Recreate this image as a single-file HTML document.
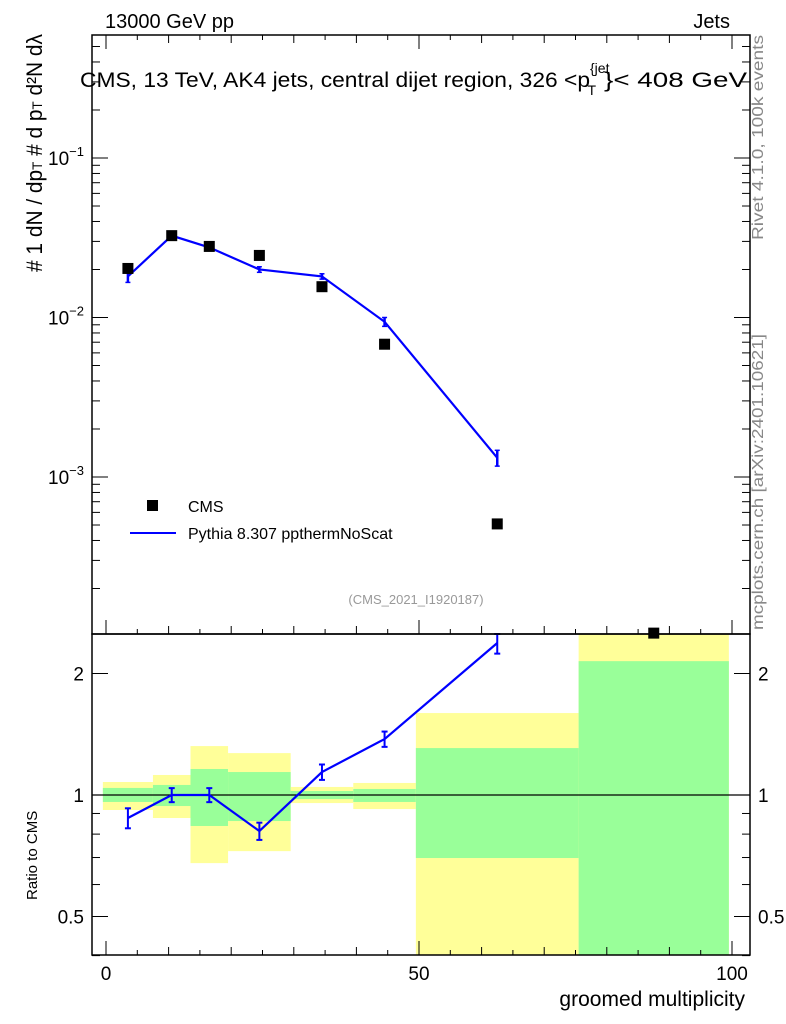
<!DOCTYPE html>
<html><head><meta charset="utf-8"><style>
body{margin:0;background:#fff;}
svg{display:block;font-family:"Liberation Sans",sans-serif;}
</style></head><body>
<svg id="chart" width="786" height="1024" viewBox="0 0 786 1024">
<text x="105" y="28" font-size="20">13000 GeV pp</text>
<text x="730" y="28" font-size="20" text-anchor="end">Jets</text>
<g id="bands"></g>
<g id="ticks"></g>
<line x1="92" y1="795" x2="750" y2="795" stroke="#000" stroke-width="1.3"/>
<g id="marks"></g>
<rect x="92" y="35" width="658" height="599" fill="none" stroke="#000" stroke-width="1.5"/>
<rect x="92" y="634" width="658" height="321" fill="none" stroke="#000" stroke-width="1.5"/>
<text x="80" y="87" font-size="21"><tspan textLength="510" lengthAdjust="spacingAndGlyphs">CMS, 13 TeV, AK4 jets, central dijet region, 326 &lt;p</tspan><tspan font-size="14" dy="-14">{jet</tspan><tspan font-size="14" dx="-22" dy="22">T</tspan><tspan dy="-8" dx="8" textLength="143" lengthAdjust="spacingAndGlyphs">}&lt; 408 GeV</tspan></text>
<text transform="translate(42,272) rotate(-90)" font-size="22" textLength="238" lengthAdjust="spacingAndGlyphs"># 1 dN / dp<tspan font-size="14">T</tspan> # d p<tspan font-size="14">T</tspan> d²N dλ</text>
<text transform="translate(37,900) rotate(-90)" font-size="15">Ratio to CMS</text>
<text x="745" y="1006" font-size="21" text-anchor="end">groomed multiplicity</text>
<text transform="translate(763,240) rotate(-90)" font-size="16" fill="#888" textLength="205" lengthAdjust="spacingAndGlyphs">Rivet 4.1.0,  100k events</text>
<text transform="translate(763,630) rotate(-90)" font-size="16" fill="#888" textLength="296" lengthAdjust="spacingAndGlyphs">mcplots.cern.ch [arXiv:2401.10621]</text>
<text x="416" y="604" font-size="13" fill="#999" text-anchor="middle">(CMS_2021_I1920187)</text>
<rect x="147" y="500" width="11" height="11" fill="#000"/>
<text x="188" y="512" font-size="16">CMS</text>
<line x1="130" y1="533" x2="176" y2="533" stroke="#00f" stroke-width="2"/>
<text x="188" y="539" font-size="16">Pythia 8.307 ppthermNoScat</text>
</svg>
<script>
const xCenters=[3.5,10.5,16.5,24.5,34.5,44.5,62.5,87.5];
const cmsVals=[0.0203,0.0326,0.0279,0.0245,0.0156,0.0068,0.000508,0.000105];
const mcX=[3.5,10.5,16.5,24.5,34.5,44.5,62.5];
const mcVals=[0.0181,0.0326,0.0275,0.0200,0.0181,0.0094,0.00132];
const mcErr=[0.0015,0.0012,0.0010,0.0008,0.0007,0.0006,0.00015];
const ratioVals=[0.877,1.0,1.0,0.814,1.14,1.376,2.38];
const ratioErr=[0.05,0.04,0.04,0.04,0.05,0.06,0.14];
const binEdges=[-0.5,7.5,13.5,19.5,29.5,39.5,49.5,75.5,99.5];
const yelHi=[1.077,1.121,1.322,1.270,1.047,1.071,1.596,3.0];
const yelLo=[0.918,0.877,0.678,0.726,0.955,0.923,0.3,0.3];
const grnHi=[1.041,1.059,1.160,1.140,1.023,1.035,1.307,2.146];
const grnLo=[0.961,0.939,0.838,0.862,0.977,0.961,0.698,0.3];
const NS='http://www.w3.org/2000/svg';
const X=v=>106+v*6.26;
const Y=v=>158-(Math.log10(v)+1)*159.5;
const R=v=>795-Math.log2(v)*121.5;
const cl=(y,a,b)=>Math.max(a,Math.min(b,y));
function mk(t,at,p){const e=document.createElementNS(NS,t);for(const k in at)e.setAttribute(k,at[k]);p.appendChild(e);return e;}
const bands=document.getElementById('bands'),marks=document.getElementById('marks'),ticks=document.getElementById('ticks');
for(let i=0;i<yelHi.length;i++){
 const x1=X(binEdges[i]),x2=X(binEdges[i+1]);
 let y1=cl(R(yelHi[i]),634,955),y2=cl(R(yelLo[i]),634,955);
 const yb=mk('rect',{x:x1,y:y1,width:x2-x1,height:y2-y1,fill:'#ffff99'},bands);
 
 
 y1=cl(R(grnHi[i]),634,955);y2=cl(R(grnLo[i]),634,955);
 const gb=mk('rect',{x:x1,y:y1,width:x2-x1,height:y2-y1,fill:'#99ff99'},bands);
 
 
}
for(let v=0;v<=100;v+=5){const L=v%50==0?14:(v%10==0?8:5);
 mk('line',{x1:X(v),x2:X(v),y1:35,y2:35+L,stroke:'#000'},ticks);
 mk('line',{x1:X(v),x2:X(v),y1:634,y2:634-L,stroke:'#000'},ticks);
 mk('line',{x1:X(v),x2:X(v),y1:955,y2:955-L,stroke:'#000'},ticks);}
[0,50,100].forEach(v=>{const t=mk('text',{x:X(v),y:980,'font-size':19,'text-anchor':'middle'},ticks);t.textContent=v;});
for(let d=-4;d<=-1;d++)for(let m=1;m<10;m++){const v=m*Math.pow(10,d);const y=Y(v);if(y<35||y>634)continue;const L=m==1?16:8;
 mk('line',{x1:92,x2:92+L,y1:y,y2:y,stroke:'#000'},ticks);mk('line',{x1:750,x2:750-L,y1:y,y2:y,stroke:'#000'},ticks);
 if(m==1){const t=mk('text',{x:84,y:y+7,'font-size':19,'text-anchor':'end'},ticks);t.innerHTML='10<tspan font-size="13" dy="-9">'+'\u2212'+(-d)+'</tspan>';}}
[0.4,0.5,0.6,0.7,0.8,0.9,1,2].forEach(v=>{const y=R(v);const L=(v==0.5||v==1||v==2)?16:8;
 mk('line',{x1:92,x2:92+L,y1:y,y2:y,stroke:'#000'},ticks);mk('line',{x1:750,x2:750-L,y1:y,y2:y,stroke:'#000'},ticks);
 if(L==16){const a=mk('text',{x:84,y:y+7,'font-size':19,'text-anchor':'end'},ticks);a.textContent=v;const b=mk('text',{x:758,y:y+7,'font-size':19},ticks);b.textContent=v;}});
let pts=mcX.map((x,i)=>X(x)+','+Y(mcVals[i])).join(' ');
const ml=mk('polyline',{points:pts,fill:'none',stroke:'#00f','stroke-width':2.2},marks);


mcX.forEach((x,i)=>{const y1=Y(mcVals[i]+mcErr[i]),y2=Y(mcVals[i]-mcErr[i]);
 const e=mk('line',{x1:X(x),x2:X(x),y1:y1,y2:y2,stroke:'#00f','stroke-width':2.5},marks);
 
 
 mk('line',{x1:X(x)-2.5,x2:X(x)+2.5,y1:y1,y2:y1,stroke:'#00f','stroke-width':1.5},marks);
 mk('line',{x1:X(x)-2.5,x2:X(x)+2.5,y1:y2,y2:y2,stroke:'#00f','stroke-width':1.5},marks);});
xCenters.forEach((x,i)=>{const y=Y(cmsVals[i]);if(y>640)return;const r=mk('rect',{x:X(x)-5.5,y:y-5.5,width:11,height:11,fill:'#000'},marks);
 
 });
pts=mcX.map((x,i)=>X(x)+','+R(ratioVals[i])).join(' ');
const rl=mk('polyline',{points:pts,fill:'none',stroke:'#00f','stroke-width':2.2},marks);


mcX.forEach((x,i)=>{const y1=Math.max(634,R(ratioVals[i]+ratioErr[i])),y2=R(ratioVals[i]-ratioErr[i]);
 const e=mk('line',{x1:X(x),x2:X(x),y1:y1,y2:y2,stroke:'#00f','stroke-width':2},marks);
 
 
 mk('line',{x1:X(x)-3,x2:X(x)+3,y1:y1,y2:y1,stroke:'#00f','stroke-width':2},marks);
 mk('line',{x1:X(x)-3,x2:X(x)+3,y1:y2,y2:y2,stroke:'#00f','stroke-width':2},marks);});
</script>
</body></html>
